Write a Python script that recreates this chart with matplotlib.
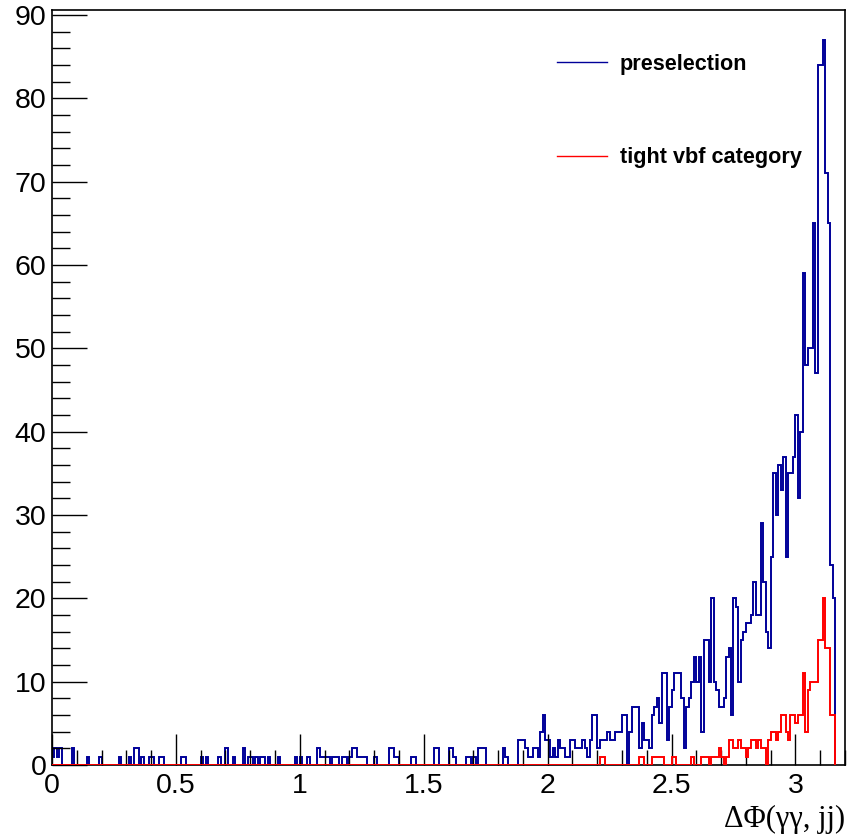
import numpy as np
import matplotlib
matplotlib.use("Agg")
import matplotlib.pyplot as plt
from matplotlib.ticker import MultipleLocator

plt.rcParams['font.family'] = ['Liberation Sans', 'DejaVu Sans']

# histogram binning (0.01 wide bins starting at 0)
bin_width = 0.01

# preselection counts, one row per 0.1 in delta phi
blue = (
    [1, 2, 1, 2, 0, 0, 0, 0, 2, 0] +
    [0, 0, 0, 0, 1, 0, 0, 0, 0, 1] +
    [0, 0, 0, 0, 0, 0, 0, 1, 0, 0] +
    [0, 1, 0, 2, 2, 0, 1, 0, 0, 1] +
    [1, 0, 0, 1, 1, 0, 0, 0, 0, 0] +
    [0, 0, 1, 1, 0, 0, 0, 0, 0, 0] +
    [1, 0, 1, 0, 0, 0, 0, 1, 0, 0] +
    [2, 0, 0, 1, 0, 0, 0, 2, 0, 1] +
    [1, 0, 1, 0, 1, 1, 0, 1, 0, 0] +
    [0, 1, 0, 0, 0, 0, 0, 0, 1, 0] +
    [1, 0, 0, 1, 0, 0, 0, 2, 1, 1] +
    [1, 1, 0, 1, 1, 1, 0, 1, 1, 0] +
    [1, 2, 2, 1, 1, 1, 1, 0, 0, 0] +
    [1, 0, 0, 0, 0, 0, 2, 2, 1, 1] +
    [0, 0, 0, 0, 0, 1, 1, 0, 0, 0] +
    [0, 0, 0, 0, 2, 2, 0, 0, 0, 0] +
    [2, 2, 1, 0, 0, 0, 0, 1, 1, 0] +
    [1, 0, 2, 2, 2, 0, 0, 0, 0, 0] +
    [0, 0, 2, 1, 0, 0, 0, 0, 3, 3] +
    [3, 2, 1, 1, 2, 2, 1, 4, 6, 3] +
    [3, 1, 2, 1, 3, 2, 2, 1, 1, 3] +
    [3, 2, 2, 2, 3, 2, 1, 3, 6, 6] +
    [2, 3, 3, 3, 4, 3, 3, 4, 4, 4] +
    [6, 6, 0, 4, 7, 7, 7, 2, 5, 3] +
    [3, 2, 6, 7, 8, 5, 11, 11, 3, 7] +
    [9, 11, 11, 11, 8, 2, 7, 8, 10, 13] +
    [10, 13, 4, 15, 15, 10, 20, 10, 9, 7] +
    [7, 8, 13, 14, 6, 20, 19, 10, 15, 16] +
    [17, 17, 18, 22, 18, 18, 29, 22, 16, 14] +
    [25, 35, 30, 36, 33, 37, 25, 35, 35, 37] +
    [42, 32, 40, 59, 48, 50, 50, 65, 47, 84] +
    [84, 87, 71, 65, 24, 20]
)

# tight vbf category counts (empty below 2.2)
red = (
    [0] * 220 +
    [0, 1, 1, 0, 0, 0, 0, 0, 0, 0] +
    [0, 0, 0, 0, 0, 0, 0, 1, 1, 0] +
    [0, 0, 1, 1, 1, 1, 1, 0, 0, 0] +
    [1, 1, 0, 0, 0, 0, 0, 0, 1, 0] +
    [0, 0, 1, 1, 1, 0, 1, 1, 1, 2] +
    [1, 0, 1, 3, 3, 2, 2, 3, 2, 2] +
    [1, 2, 3, 3, 2, 3, 2, 2, 0, 3] +
    [4, 4, 3, 4, 6, 6, 4, 3, 6, 6] +
    [5, 6, 6, 11, 4, 9, 10, 10, 10, 15] +
    [15, 20, 14, 14, 6, 6]
)

labels = ['preselection', 'tight vbf category']
xtick_vals = [0, 0.5, 1, 1.5, 2, 2.5, 3]
xtick_labels = ['0', '0.5', '1', '1.5', '2', '2.5', '3']
ytick_vals = [0, 10, 20, 30, 40, 50, 60, 70, 80, 90]

edges = np.arange(len(blue) + 1) * bin_width

fig = plt.figure(figsize=(8.48, 8.36), dpi=100)
ax = fig.add_axes([52 / 848, 1 - 765 / 836, (845 - 52) / 848, (765 - 10) / 836])

ax.stairs(blue, edges, color='#000099', lw=1.4, label=labels[0], zorder=2)
# red drawn on top of the frame so its empty bins cover the bottom line
ax.stairs(red, edges, color='#ff0000', lw=1.4, label=labels[1], zorder=3)

ax.set_xlim(0, 3.2)
ax.set_ylim(0, 90.6)
ax.set_axisbelow(False)

ax.set_xticks(xtick_vals)
ax.set_xticklabels(xtick_labels)
ax.set_yticks(ytick_vals)
ax.xaxis.set_minor_locator(MultipleLocator(0.1))
ax.yaxis.set_minor_locator(MultipleLocator(2))
ax.tick_params(axis='both', which='both', direction='in', top=False, right=False,
               labelsize=20.5, width=1.0, color='black')
ax.tick_params(axis='x', which='major', length=22, pad=6)
ax.tick_params(axis='x', which='minor', length=11)
ax.tick_params(axis='y', which='major', length=25, pad=4)
ax.tick_params(axis='y', which='minor', length=13)
for sp in ax.spines.values():
    sp.set_linewidth(1.2)
    sp.set_color('black')

fig.text(845 / 848, 1 - 819 / 836, 'ΔΦ(γγ, jj)', ha='right', va='center',
         fontsize=22, family=['Liberation Serif', 'DejaVu Serif'])

leg = ax.legend(loc='upper left', bbox_to_anchor=(557 / 848, 1 - 54 / 836),
                bbox_transform=fig.transFigure, frameon=False, borderpad=0,
                borderaxespad=0, handlelength=2.3, handletextpad=0.6,
                labelspacing=3.33,
                prop={'family': 'Liberation Sans', 'weight': 'bold', 'size': 15.6})
for line in leg.get_lines():
    line.set_linewidth(1.0)

fig.savefig('out.png', dpi=100)
